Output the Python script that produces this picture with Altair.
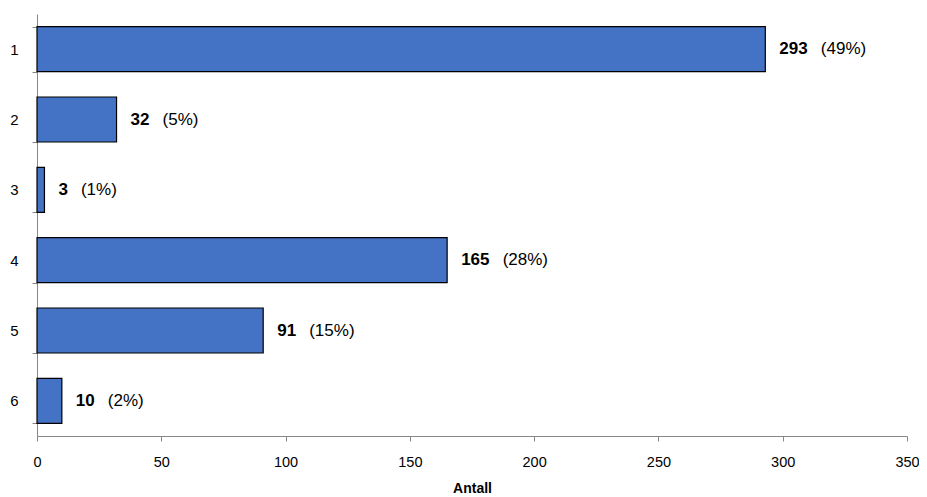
import altair as alt
import pandas as pd

categories = ["1", "2", "3", "4", "5", "6"]
counts = [293, 32, 3, 165, 91, 10]
percents = ["(49%)", "(5%)", "(1%)", "(28%)", "(15%)", "(2%)"]

df = pd.DataFrame({"cat": categories, "value": counts, "pct": percents})
df["ndig"] = df["value"].astype(str).str.len()

y = alt.Y("cat:N", sort=categories, title=None,
          scale=alt.Scale(paddingInner=0.36, paddingOuter=0.18),
          axis=alt.Axis(tickBand="extent", labelAngle=0, labelFont="Liberation Sans",
                        labelFontSize=15, labelColor="black", labelPadding=14,
                        domainColor="#888888", tickColor="#888888", tickSize=5))
x = alt.X("value:Q", title="Antall",
          scale=alt.Scale(domain=[0, 350], nice=False),
          axis=alt.Axis(values=list(range(0, 351, 50)), grid=False, labelFlush=False,
                        labelFont="Liberation Sans", labelFontSize=14.5, labelColor="black",
                        labelPadding=14, domainColor="#888888", tickColor="#888888",
                        tickSize=5, titleFont="Liberation Sans", titleFontSize=14,
                        titleFontWeight="bold", titleColor="black", titlePadding=13))

bars = alt.Chart(df).mark_bar(color="#4472C4", stroke="black", strokeWidth=1.2).encode(x=x, y=y)

vals = alt.Chart(df).mark_text(align="left", baseline="middle", dx=14, font="Liberation Sans",
                               fontSize=17, fontWeight="bold", color="black").encode(
    x="value:Q", y=y, text="value:Q")

# percent label follows the bold count: shift by the count's rendered width (px -> data units)
pcts = alt.Chart(df).transform_calculate(
    px="datum.value + (13 + 9.5 * datum.ndig) * 350 / 870"
).mark_text(align="left", baseline="middle", dx=14, font="Liberation Sans",
            fontSize=17, color="black").encode(
    x="px:Q", y=y, text="pct:N")

chart = alt.layer(bars, vals, pcts).properties(
    width=870, height=422,
    autosize=alt.AutoSizeParams(type="none"),
    padding={"left": 29, "top": 6, "right": 12, "bottom": 60},
).configure_view(stroke=None).configure_axisY(labelFontSize=15, labelFont="Liberation Sans")

chart.save("out.html", embed_options={"renderer": "svg", "actions": False})
